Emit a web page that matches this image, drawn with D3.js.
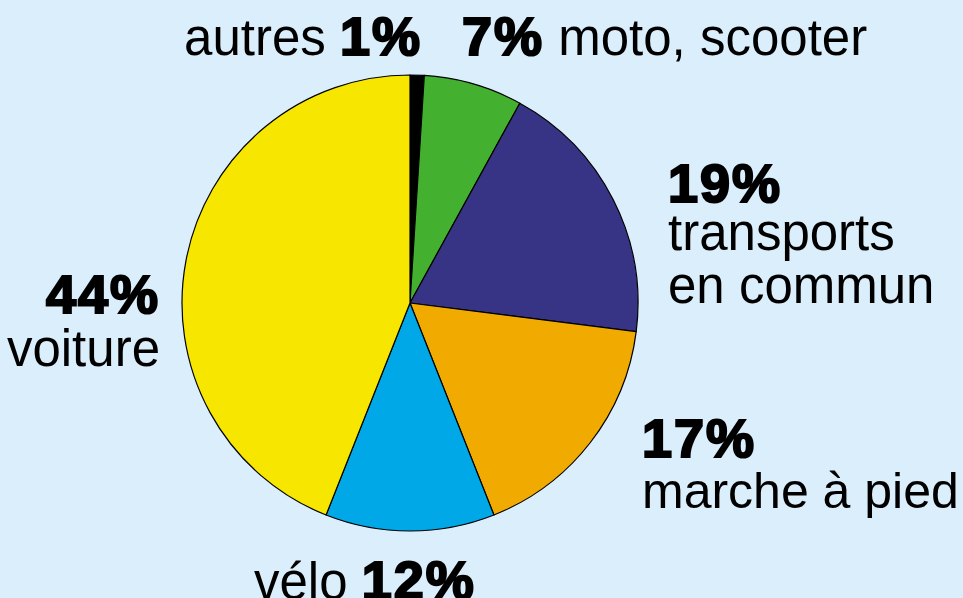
<!DOCTYPE html>
<html lang="fr">
<head>
<meta charset="utf-8">
<title>Modes de transport</title>
<script src="https://d3js.org/d3.v7.min.js"></script>
<style>
  html, body { margin: 0; padding: 0; background: #dbeefb; }
  svg { display: block; }
  text { font-family: "Liberation Sans", Arial, Helvetica, sans-serif; fill: #000; }
  .num { font-weight: bold; stroke: #000; stroke-width: 2.2px; letter-spacing: 2px; font-size: 54px; }
</style>
</head>
<body>
<div id="chart"></div>
<script>
const width = 963;
const height = 598;

// data, clockwise from 12 o'clock
const categories = ["autres", "moto, scooter", "transports en commun", "marche à pied", "vélo", "voiture"];
const values = [1, 7, 19, 17, 12, 44];
const colors = ["#000000", "#43b02f", "#383485", "#f0aa00", "#00a8e8", "#f7e600"];

const cx = 410, cy = 303, radius = 228;

const svg = d3.select("#chart")
  .append("svg")
  .attr("width", width)
  .attr("height", height)
  .attr("viewBox", [0, 0, width, height]);

svg.append("rect")
  .attr("width", width)
  .attr("height", height)
  .attr("fill", "#dbeefb");

const pie = d3.pie().sort(null).value(d => d)(values);
const arc = d3.arc().innerRadius(0).outerRadius(radius);

svg.append("g")
  .attr("transform", `translate(${cx},${cy})`)
  .selectAll("path")
  .data(pie)
  .join("path")
  .attr("d", arc)
  .attr("fill", (d, i) => colors[i])
  .attr("stroke", "#000")
  .attr("stroke-width", 1.2)
  .attr("stroke-linejoin", "round");

const fs = 51;
const pct = i => values[i] + "%";

// autres 1%
const t0 = svg.append("text").attr("x", 422).attr("y", 55).attr("text-anchor", "end").attr("font-size", fs);
t0.append("tspan").text(categories[0] + " ");
t0.append("tspan").attr("class", "num").text(pct(0));

// 7% moto, scooter
const t1 = svg.append("text").attr("x", 462).attr("y", 55).attr("font-size", fs);
t1.append("tspan").attr("class", "num").text(pct(1));
t1.append("tspan").text(" " + categories[1]);

// 19% transports en commun
svg.append("text").attr("class", "num").attr("x", 668).attr("y", 202).text(pct(2));
svg.append("text").attr("x", 668).attr("y", 250).attr("font-size", fs).text("transports");
svg.append("text").attr("x", 668).attr("y", 303).attr("font-size", fs).text("en commun");

// 17% marche à pied
svg.append("text").attr("class", "num").attr("x", 642).attr("y", 457).text(pct(3));
svg.append("text").attr("x", 642).attr("y", 508).attr("font-size", 50).text(categories[3]);

// vélo 12%
const t4 = svg.append("text").attr("x", 254).attr("y", 599).attr("font-size", fs);
t4.append("tspan").text(categories[4] + " ");
t4.append("tspan").attr("class", "num").text(pct(4));

// 44% voiture
svg.append("text").attr("class", "num").attr("x", 160).attr("y", 313).attr("text-anchor", "end").text(pct(5));
svg.append("text").attr("x", 160).attr("y", 366).attr("text-anchor", "end").attr("font-size", fs).text(categories[5]);
</script>
</body>
</html>
